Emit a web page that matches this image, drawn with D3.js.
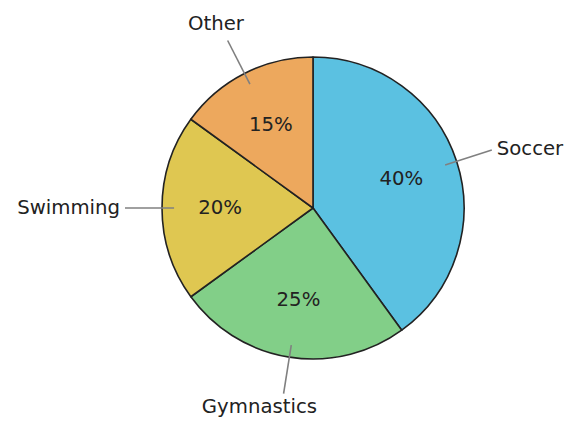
<!DOCTYPE html>
<html>
<head>
<meta charset="utf-8">
<script src="https://cdn.jsdelivr.net/npm/d3@7"></script>
<style>
  body { margin: 0; background: #fff; }
  text { font-family: "DejaVu Sans", sans-serif; fill: #222; }
</style>
</head>
<body>
<div id="chart"></div>
<script>
// data
var sports = ["Soccer", "Gymnastics", "Swimming", "Other"];
var shares = [40, 25, 20, 15];
var colors = ["#5bc1e1", "#82cf88", "#dfc751", "#eda85d"];

var width = 586, height = 439;
var cx = 313, cy = 208, r = 151;
var fontSize = 19.7;

var svg = d3.select("#chart")
    .append("svg")
    .attr("width", width)
    .attr("height", height);

var g = svg.append("g")
    .attr("transform", "translate(" + cx + "," + cy + ")");

var data = sports.map(function(s, i) { return {name: s, value: shares[i]}; });

var pie = d3.pie()
    .sort(null)
    .value(function(d) { return d.value; });

var arc = d3.arc()
    .innerRadius(0)
    .outerRadius(r);

var color = d3.scaleOrdinal()
    .domain(sports)
    .range(colors);

var arcs = pie(data);

// slices
g.selectAll("path.slice")
    .data(arcs)
  .enter()
    .append("path")
    .attr("class", "slice")
    .attr("d", arc)
    .attr("fill", function(d) { return color(d.data.name); })
    .attr("stroke", "#222")
    .attr("stroke-width", 1.6)
    .attr("stroke-linejoin", "round");

function midAngle(d) { return (d.startAngle + d.endAngle) / 2; }
function pt(d, k) {
    var a = midAngle(d);
    return [Math.sin(a) * r * k, -Math.cos(a) * r * k];
}

// percentage labels
g.selectAll("text.pct")
    .data(arcs)
  .enter()
    .append("text")
    .attr("class", "pct")
    .attr("x", function(d) { return pt(d, 0.615)[0]; })
    .attr("y", function(d) { return pt(d, 0.615)[1]; })
    .attr("dy", "0.3em")
    .attr("text-anchor", "middle")
    .style("font-size", fontSize + "px")
    .text(function(d) { return d.data.value + "%"; });

// leader lines
g.selectAll("line.leader")
    .data(arcs)
  .enter()
    .append("line")
    .attr("class", "leader")
    .attr("x1", function(d) { return pt(d, 0.92)[0]; })
    .attr("y1", function(d) { return pt(d, 0.92)[1]; })
    .attr("x2", function(d) { return pt(d, 1.245)[0]; })
    .attr("y2", function(d) { return pt(d, 1.245)[1]; })
    .attr("stroke", "#808080")
    .attr("stroke-width", 1.6);

// category labels
g.selectAll("text.name")
    .data(arcs)
  .enter()
    .append("text")
    .attr("class", "name")
    .style("font-size", fontSize + "px")
    .text(function(d) { return d.data.name; })
    .each(function(d) {
        var e = pt(d, 1.245);
        var t = d3.select(this);
        var w = this.getComputedTextLength();
        var sx = Math.sin(midAngle(d)), sy = -Math.cos(midAngle(d));
        if (Math.abs(sx) > 0.7) {
            // side label
            t.attr("x", e[0] + (sx > 0 ? 5 : -5))
             .attr("y", e[1] - (sx > 0 ? 1 : 0))
             .attr("dy", "0.3em")
             .attr("text-anchor", sx > 0 ? "start" : "end");
        } else {
            t.attr("x", e[0] - 0.71 * w)
             .attr("text-anchor", "start")
             .attr("y", sy < 0 ? e[1] - 11 : e[1] + 19);
        }
    });
</script>
</body>
</html>
